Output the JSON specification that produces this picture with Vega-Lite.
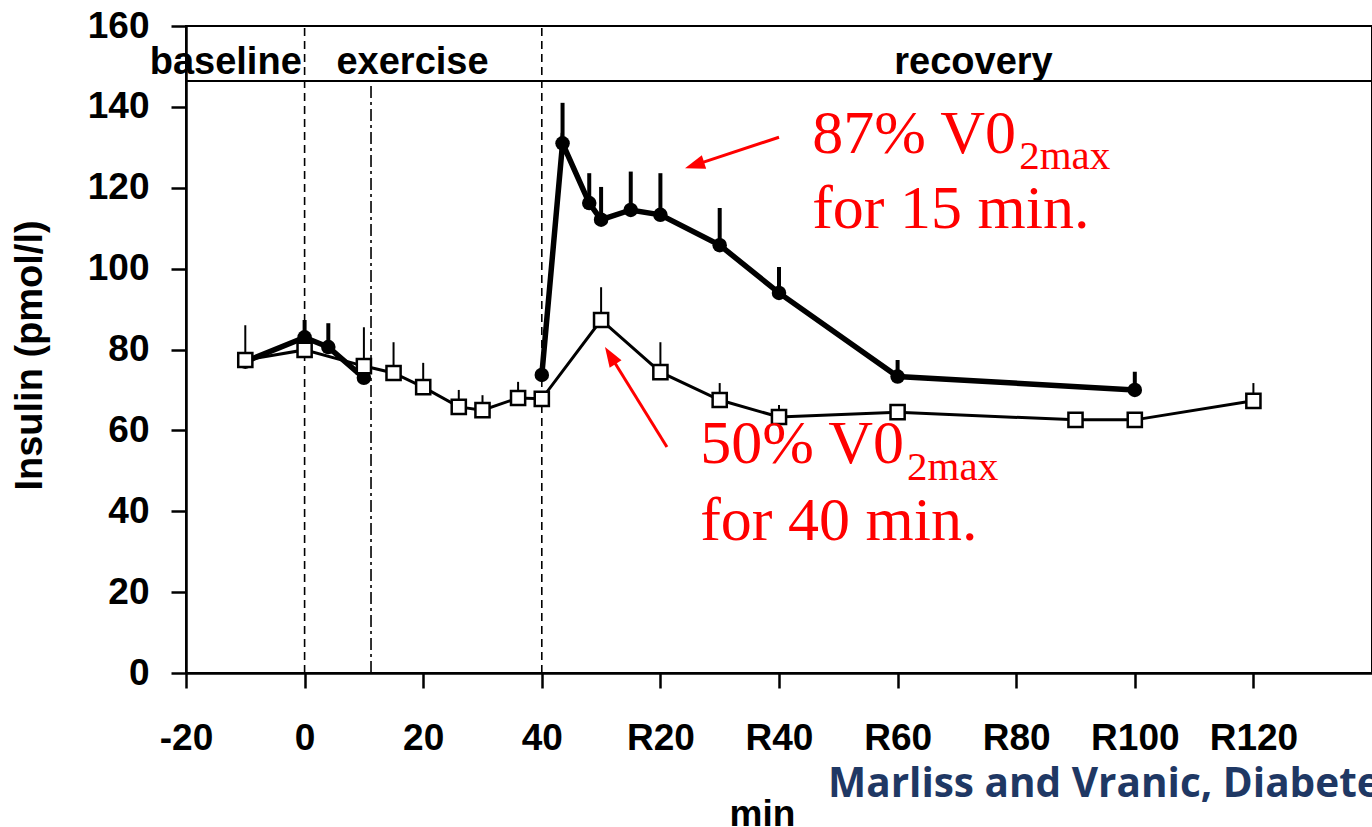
{
  "$schema": "https://vega.github.io/schema/vega-lite/v6.json",
  "width": 1186,
  "height": 647,
  "autosize": {"type": "none"},
  "padding": {"left": 186, "top": 26, "right": 0, "bottom": 154},
  "background": "white",
  "config": {
    "view": {"stroke": "black", "strokeWidth": 2},
    "font": "Liberation Sans",
    "axis": {
      "grid": false,
      "domainColor": "black",
      "domainWidth": 2.5,
      "tickColor": "black",
      "tickWidth": 2.5,
      "tickSize": 15,
      "labelColor": "black",
      "labelFont": "Liberation Sans",
      "labelFontWeight": "bold",
      "labelFontSize": 37,
      "titleColor": "black",
      "titleFont": "Liberation Sans",
      "titleFontWeight": "bold",
      "labelFlush": false,
      "labelOverlap": false
    }
  },
  "datasets": {
    "high": [
      {"t": -10, "insulin": 77, "upper": 77, "segment": "pre"},
      {"t": 0, "insulin": 83, "upper": 87.3, "segment": "pre"},
      {"t": 4, "insulin": 80.6, "upper": 86.5, "segment": "pre"},
      {"t": 10, "insulin": 73, "upper": 76, "segment": "pre"},
      {"t": 40, "insulin": 73.7, "upper": 75.5, "segment": "post"},
      {"t": 43.5, "insulin": 131, "upper": 141, "segment": "post"},
      {"t": 48, "insulin": 116.2, "upper": 123.6, "segment": "post"},
      {"t": 50, "insulin": 112.1, "upper": 120.2, "segment": "post"},
      {"t": 55, "insulin": 114.5, "upper": 124, "segment": "post"},
      {"t": 60, "insulin": 113.3, "upper": 123.6, "segment": "post"},
      {"t": 70, "insulin": 105.8, "upper": 115, "segment": "post"},
      {"t": 80, "insulin": 94, "upper": 100.4, "segment": "post"},
      {"t": 100, "insulin": 73.3, "upper": 77.4, "segment": "post"},
      {"t": 140, "insulin": 70, "upper": 74.5, "segment": "post"}
    ],
    "moderate": [
      {"t": -10, "insulin": 77.4, "upper": 86},
      {"t": 0, "insulin": 79.9, "upper": 80},
      {"t": 10, "insulin": 75.9, "upper": 85.5},
      {"t": 15, "insulin": 74.2, "upper": 81.8},
      {"t": 20, "insulin": 70.7, "upper": 76.7},
      {"t": 26, "insulin": 65.8, "upper": 70},
      {"t": 30, "insulin": 65, "upper": 68.7},
      {"t": 36, "insulin": 68, "upper": 72},
      {"t": 40, "insulin": 67.8, "upper": 69},
      {"t": 50, "insulin": 87.3, "upper": 95.4},
      {"t": 60, "insulin": 74.4, "upper": 81.8},
      {"t": 70, "insulin": 67.5, "upper": 71.7},
      {"t": 80, "insulin": 63.3, "upper": 66.3},
      {"t": 100, "insulin": 64.5, "upper": 65.5},
      {"t": 130, "insulin": 62.6, "upper": 63.5},
      {"t": 140, "insulin": 62.6, "upper": 64},
      {"t": 160, "insulin": 67.3, "upper": 71.7}
    ]
  },
  "layer": [
    {
      "data": {"values": [{"boundary": 0}, {"boundary": 40}]},
      "mark": {"type": "rule", "color": "black", "strokeWidth": 1.6, "strokeDash": [8, 5]},
      "encoding": {
        "x": {
          "field": "boundary",
          "type": "quantitative",
          "scale": {"domain": [-20, 180], "nice": false, "zero": false},
          "axis": {
            "title": "min",
            "values": [-20, 0, 20, 40, 60, 80, 100, 120, 140, 160],
            "labelExpr": "datum.value > 40 ? 'R' + (datum.value - 40) : '' + datum.value",
            "labelPadding": 32,
            "titleFontSize": 37,
            "titleX": 576,
            "titleY": 152,
            "titleBaseline": "alphabetic",
            "titleAlign": "center",
            "encode": {"labels": {"update": {"dx": {"signal": "datum.value > 40 ? 8 : 0"}}}}
          }
        },
        "y": {
          "datum": 0,
          "type": "quantitative",
          "scale": {"domain": [0, 160], "nice": false},
          "axis": {
            "title": "Insulin (pmol/l)",
            "values": [0, 20, 40, 60, 80, 100, 120, 140, 160],
            "labelPadding": 22,
            "titleFontSize": 38,
            "titleAngle": -90,
            "titleX": -156,
            "titleY": 329,
            "titleAlign": "center",
            "titleBaseline": "middle"
          }
        },
        "y2": {"datum": 160}
      }
    },
    {
      "data": {"values": [{}]},
      "mark": {"type": "rule", "color": "black", "strokeWidth": 1.6, "strokeDash": [12, 4, 3, 4]},
      "encoding": {"x": {"datum": 11.2}, "y": {"datum": 0}, "y2": {"datum": 146.4}}
    },
    {
      "data": {"values": [{}]},
      "mark": {"type": "rule", "color": "black", "strokeWidth": 2},
      "encoding": {"x": {"datum": -20}, "x2": {"datum": 180}, "y": {"datum": 146.4}}
    },
    {
      "data": {"values": [{}]},
      "mark": {"type": "text", "text": "baseline", "font": "Liberation Sans", "fontWeight": "bold", "fontSize": 38, "align": "center", "baseline": "alphabetic", "color": "black"},
      "encoding": {"x": {"datum": -13.3}, "y": {"datum": 148.1}}
    },
    {
      "data": {"values": [{}]},
      "mark": {"type": "text", "text": "exercise", "font": "Liberation Sans", "fontWeight": "bold", "fontSize": 38, "align": "center", "baseline": "alphabetic", "color": "black"},
      "encoding": {"x": {"datum": 18.2}, "y": {"datum": 148.1}}
    },
    {
      "data": {"values": [{}]},
      "mark": {"type": "text", "text": "recovery", "font": "Liberation Sans", "fontWeight": "bold", "fontSize": 38, "align": "center", "baseline": "alphabetic", "color": "black"},
      "encoding": {"x": {"datum": 112.8}, "y": {"datum": 148.1}}
    },
    {
      "data": {"name": "high"},
      "mark": {"type": "line", "color": "black", "strokeWidth": 5.5},
      "encoding": {
        "x": {"field": "t", "type": "quantitative"},
        "y": {"field": "insulin", "type": "quantitative"},
        "detail": {"field": "segment"}
      }
    },
    {
      "data": {"name": "high"},
      "mark": {"type": "rule", "color": "black", "strokeWidth": 4},
      "encoding": {
        "x": {"field": "t", "type": "quantitative"},
        "y": {"field": "insulin", "type": "quantitative"},
        "y2": {"field": "upper"}
      }
    },
    {
      "data": {"name": "high"},
      "mark": {"type": "point", "shape": "circle", "filled": true, "color": "black", "opacity": 1, "size": 210},
      "encoding": {
        "x": {"field": "t", "type": "quantitative"},
        "y": {"field": "insulin", "type": "quantitative"}
      }
    },
    {
      "data": {"name": "moderate"},
      "mark": {"type": "line", "color": "black", "strokeWidth": 3},
      "encoding": {
        "x": {"field": "t", "type": "quantitative"},
        "y": {"field": "insulin", "type": "quantitative"}
      }
    },
    {
      "data": {"name": "moderate"},
      "mark": {"type": "rule", "color": "black", "strokeWidth": 2},
      "encoding": {
        "x": {"field": "t", "type": "quantitative"},
        "y": {"field": "insulin", "type": "quantitative"},
        "y2": {"field": "upper"}
      }
    },
    {
      "data": {"name": "moderate"},
      "mark": {"type": "point", "shape": "square", "filled": true, "fill": "white", "stroke": "black", "strokeWidth": 2.5, "opacity": 1, "size": 200},
      "encoding": {
        "x": {"field": "t", "type": "quantitative"},
        "y": {"field": "insulin", "type": "quantitative"}
      }
    },
    {
      "data": {"values": [{}]},
      "mark": {"type": "text", "text": "87% V0", "font": "Liberation Serif", "fontSize": 62, "align": "left", "baseline": "alphabetic", "color": "#ff0000"},
      "encoding": {"x": {"datum": 85.6}, "y": {"datum": 128.6}}
    },
    {
      "data": {"values": [{}]},
      "mark": {"type": "text", "text": "2max", "font": "Liberation Serif", "fontSize": 41, "align": "left", "baseline": "alphabetic", "color": "#ff0000"},
      "encoding": {"x": {"datum": 120.5}, "y": {"datum": 124.6}}
    },
    {
      "data": {"values": [{}]},
      "mark": {"type": "text", "text": "for 15 min.", "font": "Liberation Serif", "fontSize": 62, "align": "left", "baseline": "alphabetic", "color": "#ff0000"},
      "encoding": {"x": {"datum": 85.6}, "y": {"datum": 110.0}}
    },
    {
      "data": {"values": [{}]},
      "mark": {"type": "text", "text": "50% V0", "font": "Liberation Serif", "fontSize": 62, "align": "left", "baseline": "alphabetic", "color": "#ff0000"},
      "encoding": {"x": {"datum": 66.7}, "y": {"datum": 51.9}}
    },
    {
      "data": {"values": [{}]},
      "mark": {"type": "text", "text": "2max", "font": "Liberation Serif", "fontSize": 41, "align": "left", "baseline": "alphabetic", "color": "#ff0000"},
      "encoding": {"x": {"datum": 101.6}, "y": {"datum": 47.7}}
    },
    {
      "data": {"values": [{}]},
      "mark": {"type": "text", "text": "for 40 min.", "font": "Liberation Serif", "fontSize": 62, "align": "left", "baseline": "alphabetic", "color": "#ff0000"},
      "encoding": {"x": {"datum": 66.7}, "y": {"datum": 32.9}}
    },
    {
      "data": {"values": [{}]},
      "mark": {"type": "rule", "color": "#ff0000", "strokeWidth": 3},
      "encoding": {"x": {"datum": 80.0}, "y": {"datum": 132.5}, "x2": {"datum": 65.75}, "y2": {"datum": 125.6}}
    },
    {
      "data": {"values": [{}]},
      "mark": {"type": "point", "shape": "M0,-1L0.7,1L-0.7,1Z", "filled": true, "color": "#ff0000", "opacity": 1, "size": 400, "angle": 252, "strokeWidth": 0},
      "encoding": {"x": {"datum": 65.75}, "y": {"datum": 125.6}}
    },
    {
      "data": {"values": [{}]},
      "mark": {"type": "rule", "color": "#ff0000", "strokeWidth": 3},
      "encoding": {"x": {"datum": 61.1}, "y": {"datum": 55.9}, "x2": {"datum": 51.55}, "y2": {"datum": 78.5}}
    },
    {
      "data": {"values": [{}]},
      "mark": {"type": "point", "shape": "M0,-1L0.7,1L-0.7,1Z", "filled": true, "color": "#ff0000", "opacity": 1, "size": 400, "angle": 328, "strokeWidth": 0},
      "encoding": {"x": {"datum": 51.55}, "y": {"datum": 78.5}}
    },
    {
      "data": {"values": [{}]},
      "mark": {"type": "text", "text": "Marliss and Vranic, Diabetes", "font": "Open Sans", "fontWeight": "bold", "fontSize": 40.5, "align": "left", "baseline": "alphabetic", "color": "#1f3864"},
      "encoding": {"x": {"datum": 88.26}, "y": {"datum": -30.66}}
    }
  ]
}
